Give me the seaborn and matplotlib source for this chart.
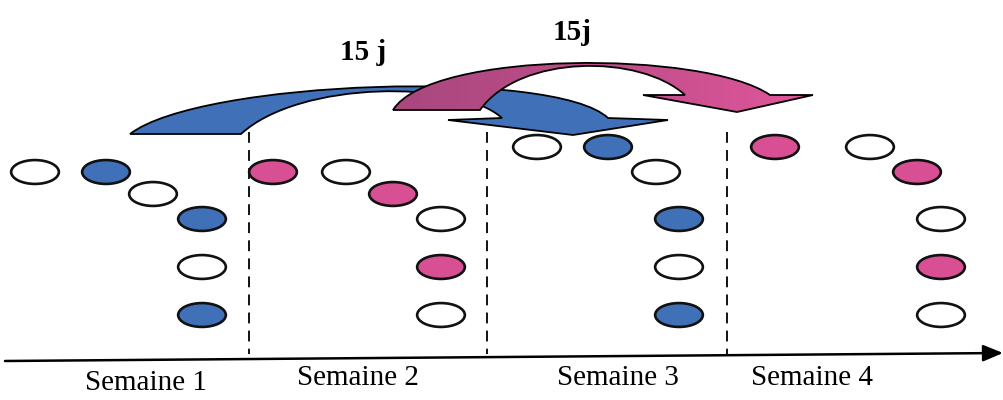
import numpy as np
import pandas as pd
import seaborn as sns
import matplotlib
matplotlib.use("Agg")
from matplotlib import pyplot as plt
from matplotlib.path import Path
from matplotlib.patches import PathPatch
from matplotlib.transforms import Affine2D
from matplotlib.colors import LinearSegmentedColormap

# positions of the ovals (y grows downward)
semaine1_x = [35, 106, 153, 202, 202, 202]
semaine1_y = [172, 172, 194, 219, 267, 315]
semaine1_c = ["blanc", "bleu", "blanc", "bleu", "blanc", "bleu"]

semaine2_x = [273, 346, 393, 441, 441, 441]
semaine2_y = [172, 172, 194, 219, 267, 315]
semaine2_c = ["rose", "blanc", "rose", "blanc", "rose", "blanc"]

semaine3_x = [537, 608, 656, 679, 679, 679]
semaine3_y = [147, 147, 172, 219, 267, 315]
semaine3_c = ["blanc", "bleu", "blanc", "bleu", "blanc", "bleu"]

semaine4_x = [775, 870, 917, 941, 941, 941]
semaine4_y = [147, 147, 172, 219, 267, 315]
semaine4_c = ["rose", "blanc", "rose", "blanc", "rose", "blanc"]

separateurs = [249, 487, 727]
semaines = ["Semaine 1", "Semaine 2", "Semaine 3", "Semaine 4"]
semaines_x = [146, 358, 618, 812]
semaines_y = [383, 378, 378, 378]

delais = ["15 j", "15j"]
delais_x = [363, 572]
delais_y = [53, 32]

couleurs = {"blanc": "white", "bleu": "#4071b8", "rose": "#d94f93"}

df = pd.DataFrame({
    "x": semaine1_x + semaine2_x + semaine3_x + semaine4_x,
    "y": semaine1_y + semaine2_y + semaine3_y + semaine4_y,
    "couleur": semaine1_c + semaine2_c + semaine3_c + semaine4_c,
})

sns.set_style("white")
fig = plt.figure(figsize=(10.04, 4.0), dpi=100)
ax = fig.add_axes([0, 0, 1, 1])
ax.set_xlim(0, 1004)
ax.set_ylim(400, 0)
ax.axis("off")

ovale = Path.unit_circle().transformed(Affine2D().scale(1, 0.5))
sns.scatterplot(data=df, x="x", y="y", hue="couleur", palette=couleurs,
                marker=ovale, s=1180, edgecolor="#111111", linewidth=1.9,
                legend=False, ax=ax, zorder=3)

# dashed week separators
for xs in separateurs:
    ax.plot([xs, xs], [132, 354], color="black", lw=1.3, dashes=(6, 4), zorder=1)

# time axis
ax.annotate("", xy=(1003, 353), xytext=(5, 361),
            arrowprops=dict(arrowstyle="-|>,head_length=1.2,head_width=0.5",
                            color="black", lw=1.8, shrinkA=0, shrinkB=0))

for lab, xs, ys in zip(semaines, semaines_x, semaines_y):
    ax.text(xs, ys, lab, ha="center", va="center", fontsize=21,
            family="Liberation Serif", color="black")

for lab, xs, ys in zip(delais, delais_x, delais_y):
    ax.text(xs, ys, lab, ha="center", va="center", fontsize=21,
            family="Liberation Serif", fontweight="bold", color="black")


def fleche(tail_out, c1, c2, neck_out, barb_out, tip, barb_in, neck_in, d1, d2, tail_in):
    verts = [tail_out, c1, c2, neck_out, barb_out, tip, barb_in, neck_in,
             d1, d2, tail_in, tail_out]
    codes = [Path.MOVETO, Path.CURVE4, Path.CURVE4, Path.CURVE4,
             Path.LINETO, Path.LINETO, Path.LINETO, Path.LINETO,
             Path.CURVE4, Path.CURVE4, Path.CURVE4, Path.CLOSEPOLY]
    return Path(verts, codes)


bleu = fleche((130, 134), (200, 80), (555, 68), (608, 118), (668, 120),
              (573, 135), (448, 120), (502, 118), (460, 80), (300, 80), (241, 134))
ax.add_patch(PathPatch(bleu, facecolor=couleurs["bleu"], edgecolor="black",
                       lw=1.3, zorder=2))

rose = fleche((393, 110), (430, 50), (705, 50), (770, 95), (813, 95),
              (737, 112), (643, 95), (685, 95), (640, 54), (520, 54), (480, 110))
# mauve to pink shading along the pink arrow
degrade = LinearSegmentedColormap.from_list("rose", ["#a9477f", "#bf4d88", "#e0579c"])
fond = ax.imshow(np.linspace(0, 1, 256)[None, :], cmap=degrade, aspect="auto",
                 extent=(393, 813, 112, 60), zorder=2.4)
bord = PathPatch(rose, facecolor="none", edgecolor="black", lw=1.3, zorder=2.5)
ax.add_patch(bord)
fond.set_clip_path(bord)
ax.set_xlim(0, 1004)
ax.set_ylim(400, 0)

plt.savefig("out.png", dpi=100)
